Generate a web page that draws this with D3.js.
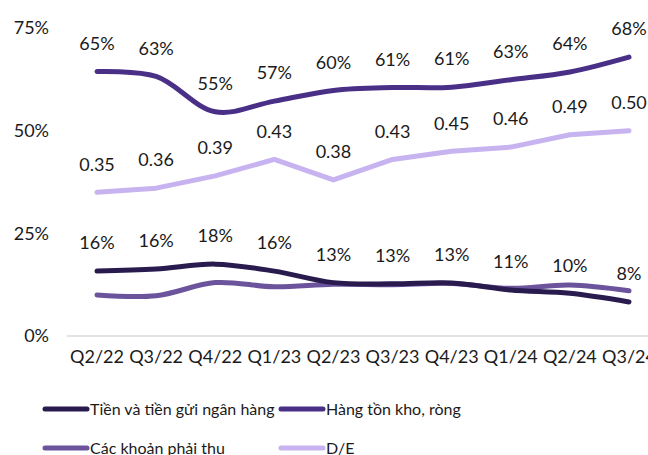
<!DOCTYPE html>
<html>
<head>
<meta charset="utf-8">
<script src="https://cdn.jsdelivr.net/npm/d3@7"></script>
<style>
  body { margin: 0; background: #fff; }
  svg { display: block; font-family: Lato, "Noto Sans", sans-serif; }
  .tick-label { font-size: 18px; fill: #1a1a1a; }
  .val-label { font-size: 18px; fill: #1a1a1a; text-anchor: middle; }
  .legend-text { font-size: 16px; fill: #1a1a1a; }
</style>
</head>
<body>
<svg width="648" height="455"></svg>
<script>
const quarters = ["Q2/22","Q3/22","Q4/22","Q1/23","Q2/23","Q3/23","Q4/23","Q1/24","Q2/24","Q3/24"]

// values in percent (D/E plotted as ratio * 100 on the same axis)
const cash = [15.8, 16.3, 17.5, 15.8, 13.0, 12.7, 12.9, 11.2, 10.4, 8.3]
const cashLabels = ["16%","16%","18%","16%","13%","13%","13%","11%","10%","8%"]
const inventory = [64.4, 63.2, 54.6, 57.2, 59.8, 60.5, 60.6, 62.4, 64.3, 67.9]
const inventoryLabels = ["65%","63%","55%","57%","60%","61%","61%","63%","64%","68%"]
const receivables = [10.0, 9.8, 13.0, 12.0, 12.6, 12.5, 12.8, 11.6, 12.4, 11.0]
const debtEquity = [0.35, 0.36, 0.39, 0.43, 0.38, 0.43, 0.45, 0.46, 0.49, 0.50]
const deLabels = ["0.35","0.36","0.39","0.43","0.38","0.43","0.45","0.46","0.49","0.50"]
const yTicks = [0, 25, 50, 75]

const series = [
    {name: "Tiền và tiền gửi ngân hàng", values: cash, labels: cashLabels, color: "#2a1b4f", curve: d3.curveCatmullRom},
    {name: "Hàng tồn kho, ròng", values: inventory, labels: inventoryLabels, color: "#4a2f87", curve: d3.curveCatmullRom},
    {name: "Các khoản phải thu", values: receivables, labels: null, color: "#6b549c", curve: d3.curveCatmullRom},
    {name: "D/E", values: debtEquity.map(d => d * 100), labels: deLabels, color: "#c7b3ef", curve: d3.curveLinear}
]

const svg = d3.select("svg")

const scaleX = d3.scalePoint()
    .domain(quarters)
    .range([97, 629])

const scaleY = d3.scaleLinear()
    .domain([0, 75])
    .range([336, 28])

// baseline
svg.append("line")
    .attr("x1", 67)
    .attr("x2", 648)
    .attr("y1", scaleY(0))
    .attr("y2", scaleY(0))
    .attr("stroke", "#d9d9d9")
    .attr("stroke-width", 1.5)

svg.selectAll("text.y-tick")
    .data(yTicks)
    .enter()
    .append("text")
    .attr("class", "tick-label y-tick")
    .attr("x", 49)
    .attr("y", d => scaleY(d))
    .attr("dy", "0.35em")
    .attr("text-anchor", "end")
    .text(d => d + "%")

svg.selectAll("text.x-tick")
    .data(quarters)
    .enter()
    .append("text")
    .attr("class", "tick-label x-tick")
    .attr("x", d => scaleX(d))
    .attr("y", 357)
    .attr("dy", "0.35em")
    .attr("text-anchor", "middle")
    .text(d => d)

// draw receivables & cash first so inventory/DE sit on top
const drawOrder = [2, 0, 3, 1]
drawOrder.forEach(i => {
    const s = series[i]
    const lineGen = d3.line()
        .x((d, j) => scaleX(quarters[j]))
        .y(d => scaleY(d))
        .curve(s.curve)
    svg.append("path")
        .datum(s.values)
        .attr("d", lineGen)
        .attr("fill", "none")
        .attr("stroke", s.color)
        .attr("stroke-width", 5)
        .attr("stroke-linecap", "round")
        .attr("stroke-linejoin", "round")
})

series.forEach(s => {
    if (!s.labels) return
    svg.append("g")
        .selectAll("text")
        .data(s.labels)
        .enter()
        .append("text")
        .attr("class", "val-label")
        .attr("x", (d, j) => scaleX(quarters[j]))
        .attr("y", (d, j) => scaleY(s.values[j]) - 28)
        .attr("dy", "0.35em")
        .text(d => d)
})

// legend
const legendPos = [[43, 409], [279, 409], [43, 448], [279, 448]]
series.forEach((s, i) => {
    const [lx, ly] = legendPos[i]
    const g = svg.append("g").attr("transform", `translate(${lx},${ly})`)
    g.append("line")
        .attr("x1", 2).attr("x2", 44)
        .attr("y1", 0).attr("y2", 0)
        .attr("stroke", s.color)
        .attr("stroke-width", 5)
        .attr("stroke-linecap", "round")
    g.append("text")
        .attr("class", "legend-text")
        .attr("x", 47)
        .attr("y", 0)
        .attr("dy", "0.35em")
        .text(s.name)
})
</script>
</body>
</html>
